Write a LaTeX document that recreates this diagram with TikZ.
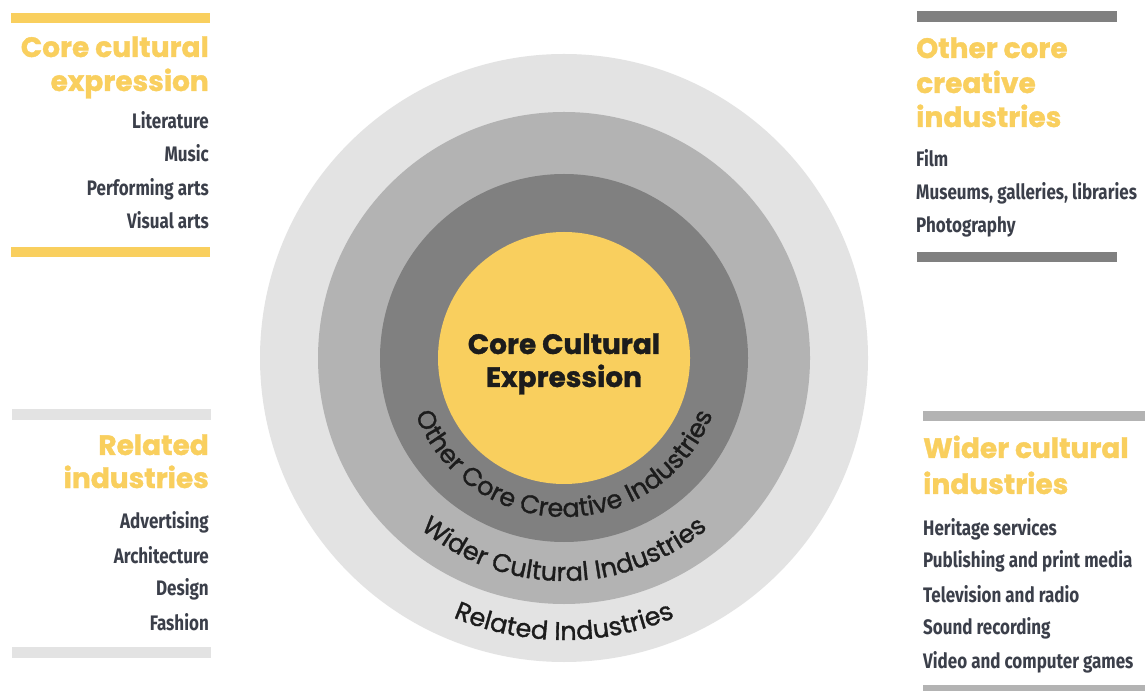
\documentclass[tikz,border=0pt]{standalone}
\usepackage{fontspec}
\usetikzlibrary{decorations.text,calc}
\newfontfamily\headfont{Poppins}[FakeBold=1.2]
\newfontfamily\itemfont{Fira Sans}[FakeStretch=0.81]
\newfontfamily\curvefont{Poppins}[FakeBold=1.2]
\definecolor{cyel}{HTML}{F9CF5E}
\definecolor{cg1}{HTML}{E3E3E3}
\definecolor{cg2}{HTML}{B3B3B3}
\definecolor{cg3}{HTML}{808080}
\definecolor{citem}{HTML}{3B3F4A}
\definecolor{cdark}{HTML}{1C1C1C}
\tikzset{
  ring/.style={circle, inner sep=0pt, draw=none},
  head/.style={inner sep=0pt, text=cyel, font=\headfont\bfseries\fontsize{28}{28}\selectfont},
  itm/.style={inner sep=0pt, text=citem, font=\itemfont\bfseries\fontsize{21}{21}\selectfont},
  centertxt/.style={inner sep=0pt, text=cdark, font=\headfont\bfseries\fontsize{28}{28}\selectfont},
  curvetxt/.style={decorate, decoration={text along path, text align=center, text color=cdark}},
}
\begin{document}
\begin{tikzpicture}[x=1pt,y=1pt]
\useasboundingbox (0,0) rectangle (1145,691);
\fill[white] (0,0) rectangle (1145,691);
% circles
\node[ring, fill=cg1, minimum size=608pt] (outer) at (564,333) {};
\node[ring, fill=cg2, minimum size=492pt] (wider) at (564,333) {};
\node[ring, fill=cg3, minimum size=368pt] (other) at (564,333) {};
\node[ring, fill=cyel, minimum size=252pt] (core) at (564,333) {};
\node[centertxt, anchor=base] (ct1) at (564,337) {Core Cultural};
\node[centertxt, anchor=base] (ct2) at (564,304) {Expression};
% curved labels
\path[curvetxt, decoration={text={|\curvefont\fontsize{25.5}{25.5}\selectfont|Other Core Creative Industries}}]
  ($(core.center)+(180:159)$) arc[start angle=180, end angle=360, radius=159];
\path[curvetxt, decoration={text={|\curvefont\fontsize{25.5}{25.5}\selectfont|Wider Cultural Industries}}]
  ($(core.center)+(180:223)$) arc[start angle=180, end angle=360, radius=223];
\path[curvetxt, decoration={text={|\curvefont\fontsize{25.5}{25.5}\selectfont|Related Industries}}]
  ($(core.center)+(180:282)$) arc[start angle=180, end angle=360, radius=282];
% bars
\fill[cyel] (11,668) rectangle (210,678);
\fill[cyel] (11,434) rectangle (210,444);
\fill[cg3] (917,669) rectangle (1117,680);
\fill[cg3] (917,429) rectangle (1117,439);
\fill[cg1] (12,271) rectangle (211,282);
\fill[cg1] (12,33) rectangle (211,44);
\fill[cg2] (923,270) rectangle (1145,280);
\fill[cg2] (923,0) rectangle (1145,6);
% top-left
\node[head, anchor=base east] (h1a) at (209,634) {Core cultural};
\node[head, anchor=base east] (h1b) at (209,600) {expression};
\node[itm, anchor=base east] (i1a) at (209,562.5) {Literature};
\node[itm, anchor=base east] (i1b) at (209,529) {Music};
\node[itm, anchor=base east] (i1c) at (209,495.5) {Performing arts};
\node[itm, anchor=base east] (i1d) at (209,462) {Visual arts};
% top-right
\node[head, anchor=base west] (h2a) at (916,633) {Other core};
\node[head, anchor=base west] (h2b) at (916,598) {creative};
\node[head, anchor=base west] (h2c) at (916,564) {industries};
\node[itm, anchor=base west] (i2a) at (916,524) {Film};
\node[itm, anchor=base west] (i2b) at (916,491) {Museums, galleries, libraries};
\node[itm, anchor=base west] (i2c) at (916,458) {Photography};
% bottom-left
\node[head, anchor=base east] (h3a) at (209,236) {Related};
\node[head, anchor=base east] (h3b) at (209,203) {industries};
\node[itm, anchor=base east] (i3a) at (209,163) {Advertising};
\node[itm, anchor=base east] (i3b) at (209,128) {Architecture};
\node[itm, anchor=base east] (i3c) at (209,96) {Design};
\node[itm, anchor=base east] (i3d) at (209,61) {Fashion};
% bottom-right
\node[head, anchor=base west] (h4a) at (923,233) {Wider cultural};
\node[head, anchor=base west] (h4b) at (923,197) {industries};
\node[itm, anchor=base west] (i4a) at (923,156) {Heritage services};
\node[itm, anchor=base west] (i4b) at (923,124) {Publishing and print media};
\node[itm, anchor=base west] (i4c) at (923,89) {Television and radio};
\node[itm, anchor=base west] (i4d) at (923,57) {Sound recording};
\node[itm, anchor=base west] (i4e) at (923,23) {Video and computer games};
\end{tikzpicture}
\end{document}
